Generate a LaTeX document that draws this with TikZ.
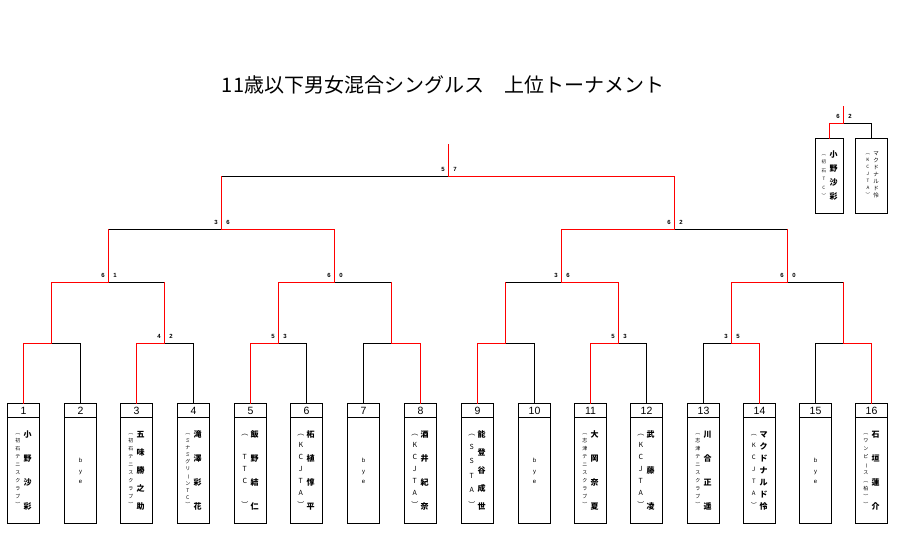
\documentclass[tikz,border=0pt]{standalone}
\usepackage{fontspec}
\setmainfont{Liberation Sans}
\newfontfamily\jp{Noto Sans CJK JP}
\newcommand{\vbar}{\rotatebox[origin=c]{-90}{ー}}
\tikzset{every picture/.style={line width=1pt, line cap=rect}}
\tikzset{
  win/.style={red},
  lose/.style={black},
  entry/.style={draw, line width=1.4pt, minimum width=32pt, minimum height=120pt, inner sep=0pt, outer sep=0pt},
  seed/.style={font=\fontsize{10.5}{12}\selectfont, inner sep=0pt},
  score/.style={font=\fontsize{6}{7}\selectfont\bfseries, inner sep=0pt},
  column/.style={align=center, inner sep=0pt},
  byetext/.style={align=center, inner sep=0pt, font=\fontsize{6}{10.5}\selectfont}
}

\begin{document}
\begin{tikzpicture}[x=1pt, y=-1pt]
\useasboundingbox (0,0) rectangle (897,559);
\node[font={\jp\fontsize{20}{24}\selectfont}] (title) at (443,85) {11歳以下男女混合シングルス　上位トーナメント};

\foreach \i/\x in {1/23.5, 2/80.5, 3/136.5, 4/193.5, 5/250.5, 6/306.5, 7/363.5, 8/420.5, 9/477.5, 10/534.5, 11/590.5, 12/646.5, 13/703.5, 14/759.5, 15/815.5, 16/871.5} {
  \node[entry] (p\i) at (\x,463.5) {};
  \draw[line width=1.4pt, line cap=butt] ([yshift=-14pt]p\i.north west) -- ([yshift=-14pt]p\i.north east);
  \node[seed] (s\i) at ([yshift=-7.5pt]p\i.north) {\i};
}

\foreach \i/\cnt/\nm/\na/\fs/\af in {
  1/4/{小\\野\\沙\\彩}/10/5/{︵\\初\\石\\テ\\ニ\\ス\\ク\\ラ\\ブ\\︶},
  3/5/{五\\味\\勝\\之\\助}/10/5/{︵\\初\\石\\テ\\ニ\\ス\\ク\\ラ\\ブ\\︶},
  4/4/{滝\\澤\\彩\\花}/11/5/{︵\\ミ\\ナ\\ミ\\グ\\リ\\\vbar\\ン\\T\\C\\︶},
  5/4/{飯\\野\\結\\仁}/7/7/{︵\\ \\T\\T\\C\\ \\︶},
  6/4/{柘\\植\\惇\\平}/7/7/{︵\\K\\C\\J\\T\\A\\︶},
  8/4/{酒\\井\\紀\\奈}/7/7/{︵\\K\\C\\J\\T\\A\\︶},
  9/5/{能\\登\\谷\\成\\世}/6/7/{︵\\S\\S\\T\\A\\︶},
  11/4/{大\\岡\\奈\\夏}/10/5/{︵\\志\\津\\テ\\ニ\\ス\\ク\\ラ\\ブ\\︶},
  12/3/{武\\藤\\凌}/7/7/{︵\\K\\C\\J\\T\\A\\︶},
  13/4/{川\\合\\正\\遥}/10/5/{︵\\志\\津\\テ\\ニ\\ス\\ク\\ラ\\ブ\\︶},
  14/7/{マ\\ク\\ド\\ナ\\ル\\ド\\怜}/7/6/{︵\\K\\C\\J\\T\\A\\︶},
  16/4/{石\\垣\\蓮\\介}/10/5/{︵\\ワ\\ン\\ピ\\\vbar\\ス\\︵\\柏\\︶\\︶}} {
  \pgfmathsetmacro\nsep{72/(\cnt-1)}
  \pgfmathsetmacro\asep{72/(\na-1)}
  \node[column, font={\jp\bfseries\fontsize{8}{\nsep}\selectfont}] (n\i) at ([xshift=4pt,yshift=-7pt]p\i.center) {\nm};
  \node[column, font={\jp\fontsize{\fs}{\asep}\selectfont}] (a\i) at ([xshift=-5.7pt,yshift=-7pt]p\i.center) {\af};
}
\foreach \i in {2,7,10,15}
  \node[byetext] (b\i) at ([yshift=-7.5pt]p\i.center) {b\\y\\e};

\coordinate (j11) at (51.5,343.5);  \coordinate (j12) at (164.5,343.5);
\coordinate (j13) at (278.5,343.5); \coordinate (j14) at (391.5,343.5);
\coordinate (j15) at (505.5,343.5); \coordinate (j16) at (618.5,343.5);
\coordinate (j17) at (731.5,343.5); \coordinate (j18) at (843.5,343.5);
\coordinate (j21) at (108.5,282.5); \coordinate (j22) at (334.5,282.5);
\coordinate (j23) at (561.5,282.5); \coordinate (j24) at (787.5,282.5);
\coordinate (j31) at (221.5,229.5); \coordinate (j32) at (674.5,229.5);
\coordinate (j4) at (448.5,176.5);  \coordinate (top) at (448.5,145);

\node[entry, minimum width=28pt, minimum height=75pt] (w1) at (829.5,176) {};
\node[entry, minimum width=32pt, minimum height=75pt] (w2) at (871.5,176) {};
\node[column, font={\jp\bfseries\fontsize{8}{14}\selectfont}] (wn1) at ([xshift=4pt]w1.center) {小\\野\\沙\\彩};
\node[column, font={\jp\fontsize{4.5}{8.4}\selectfont}] (wa1) at ([xshift=-5.6pt]w1.center) {︵\\初\\石\\T\\C\\︶};
\node[column, font={\jp\fontsize{5.5}{7.1}\selectfont}] (wn2) at ([xshift=4.6pt,yshift=1pt]w2.center) {マ\\ク\\ド\\ナ\\ル\\ド\\怜};
\node[column, font={\jp\fontsize{4.5}{7.1}\selectfont}] (wa2) at ([xshift=-3.6pt,yshift=1pt]w2.center) {︵\\K\\C\\J\\T\\A\\︶};
\coordinate (j5) at (843.5,123.5); \coordinate (top5) at (843.5,107);

\draw[lose] (p2.north) |- (j11);  \draw[lose] (p4.north) |- (j12);
\draw[lose] (p6.north) |- (j13);  \draw[lose] (p7.north) |- (j14);
\draw[lose] (p10.north) |- (j15); \draw[lose] (p12.north) |- (j16);
\draw[lose] (p13.north) |- (j17); \draw[lose] (p15.north) |- (j18);
\draw[lose] (j12 |- j21) -- (j21); \draw[lose] (j14 |- j22) -- (j22);
\draw[lose] (j15 |- j23) -- (j23); \draw[lose] (j18 |- j24) -- (j24);
\draw[lose] (j21 |- j31) -- (j31); \draw[lose] (j24 |- j32) -- (j32);
\draw[lose] (j31 |- j4) -- (j4);
\draw[lose] (w2.north) |- (j5);

\draw[win] (p1.north) |- (j11) |- (j21) -- (j21 |- j31);
\draw[win] (p3.north) |- (j12) -- (j12 |- j21);
\draw[win] (p5.north) |- (j13) |- (j22) |- (j31) -- (j31 |- j4);
\draw[win] (p8.north) |- (j14) -- (j14 |- j22);
\draw[win] (p9.north) |- (j15) -- (j15 |- j23);
\draw[win] (p11.north) |- (j16) |- (j23) |- (j32) |- (j4) -- (top);
\draw[win] (p14.north) |- (j17) |- (j24) -- (j24 |- j32);
\draw[win] (p16.north) |- (j18) -- (j18 |- j24);
\draw[win] (w1.north) |- (j5) -- (top5);

\foreach \m/\l/\r in {j12/4/2, j13/5/3, j16/5/3, j17/3/5, j21/6/1, j22/6/0, j23/3/6, j24/6/0, j31/3/6, j32/6/2, j4/5/7, j5/6/2} {
  \node[score] (\m-l) at ([xshift=-5.5pt,yshift=7.5pt]\m) {\l};
  \node[score] (\m-r) at ([xshift=6.5pt,yshift=7.5pt]\m) {\r};
}
\end{tikzpicture}
\end{document}
